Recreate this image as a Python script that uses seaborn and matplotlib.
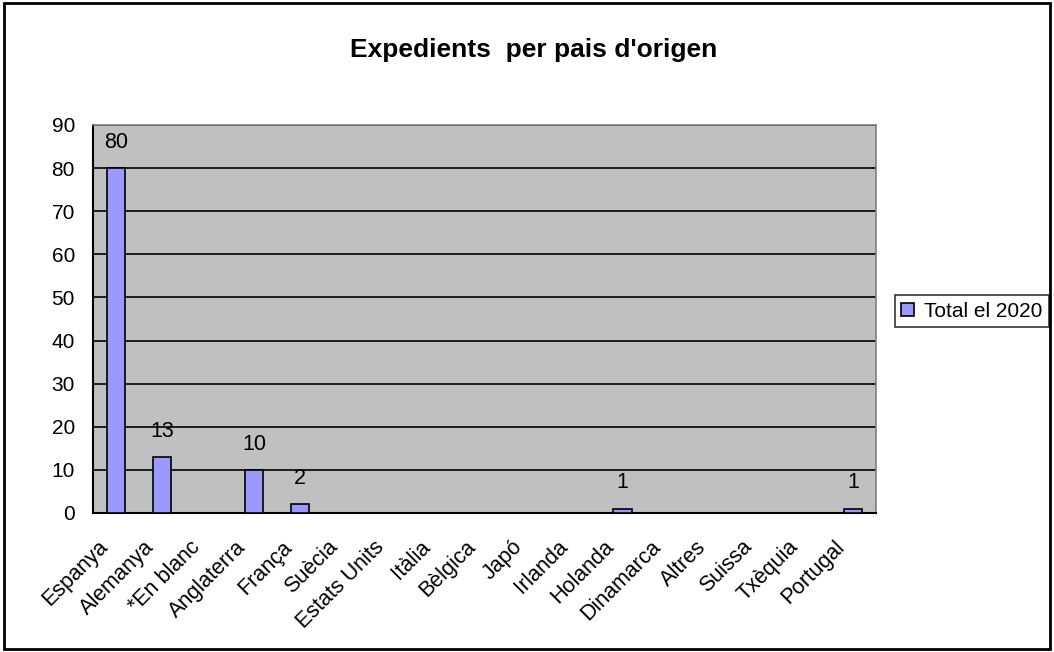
import numpy as np
import matplotlib
matplotlib.use('Agg')
import matplotlib.pyplot as plt
import matplotlib.transforms as mtransforms
import seaborn as sns
from matplotlib.patches import Rectangle, Patch

# Data
countries = ['Espanya', 'Alemanya', '*En blanc', 'Anglaterra', 'França', 'Suècia',
             'Estats Units', 'Itàlia', 'Bèlgica', 'Japó', 'Irlanda', 'Holanda',
             'Dinamarca', 'Altres', 'Suissa', 'Txèquia', 'Portugal']
totals = [80, 13, 0, 10, 2, 0, 0, 0, 0, 0, 0, 1, 0, 0, 0, 0, 1]
series_name = 'Total el 2020'
y_ticks = list(range(0, 100, 10))

sns.set_style('white')
plt.rcParams['font.family'] = ['Liberation Sans', 'DejaVu Sans']
plt.rcParams['text.color'] = 'black'
plt.rcParams['xtick.color'] = 'black'
plt.rcParams['ytick.color'] = 'black'
plt.rcParams['axes.labelcolor'] = 'black'

fig = plt.figure(figsize=(10.54, 6.52), dpi=100)
ax = fig.add_axes([0.0882, 0.2132, 0.7429, 0.5951])

sns.barplot(x=countries, y=totals, color='#9999FF', edgecolor='black',
            linewidth=1.2, width=0.4, saturation=1, ax=ax, zorder=3)

ax.set_facecolor('#C0C0C0')
ax.set_xlim(-0.5, len(countries) - 0.5)
ax.set_ylim(0, 90)
ax.set_yticks(y_ticks)
ax.yaxis.grid(True, color='black', linewidth=1.2)
ax.set_axisbelow(True)

# labels above nonzero bars
for patch, v in zip(ax.patches, totals):
    if v > 0:
        ax.annotate(str(v), (patch.get_x() + patch.get_width() / 2, v),
                    xytext=(0, 11), textcoords='offset points',
                    ha='center', va='bottom', fontsize=15.5)

# x ticks at category boundaries, labels at centers
ax.set_xticks(np.arange(len(countries)))
ax.set_xticklabels(countries, rotation=45, ha='right', rotation_mode='anchor', fontsize=15.5)
ax.set_xticks(np.arange(len(countries) + 1) - 0.5, minor=True)
ax.tick_params(axis='x', which='major', length=0, pad=9)
ax.tick_params(axis='x', which='minor', length=6, width=1.2, color='black', direction='out')
ax.tick_params(axis='y', length=5, width=1.2, color='black', direction='out', labelsize=15, pad=8)
ax.set_xlabel('')
ax.set_ylabel('')

# shift rotated labels down/left like the original
offset = mtransforms.ScaledTranslation(-0.19, -0.11, fig.dpi_scale_trans)
for lbl in ax.get_xticklabels():
    lbl.set_transform(lbl.get_transform() + offset)

for side in ['top', 'right']:
    ax.spines[side].set_color('#808080')
    ax.spines[side].set_linewidth(1.2)
for side in ['left', 'bottom']:
    ax.spines[side].set_color('black')
    ax.spines[side].set_linewidth(1.5)

fig.text(0.506, 0.923, "Expedients  per pais d'origen", ha='center', va='center',
         fontsize=19, fontweight='bold')

handle = Patch(facecolor='#9999FF', edgecolor='black', linewidth=1.2)
leg = fig.legend([handle], [series_name], loc='center left', bbox_to_anchor=(0.849, 0.523),
                 frameon=True, fancybox=False, edgecolor='black', fontsize=15,
                 handlelength=0.6, handleheight=0.6, handletextpad=0.5, borderpad=0.3,
                 borderaxespad=0)
leg.get_frame().set_linewidth(1.2)

fig.patches.append(Rectangle((0.004, 0.005), 0.992, 0.99, transform=fig.transFigure,
                             fill=False, edgecolor='black', linewidth=2))

fig.savefig('out.png', dpi=100, facecolor='white')
